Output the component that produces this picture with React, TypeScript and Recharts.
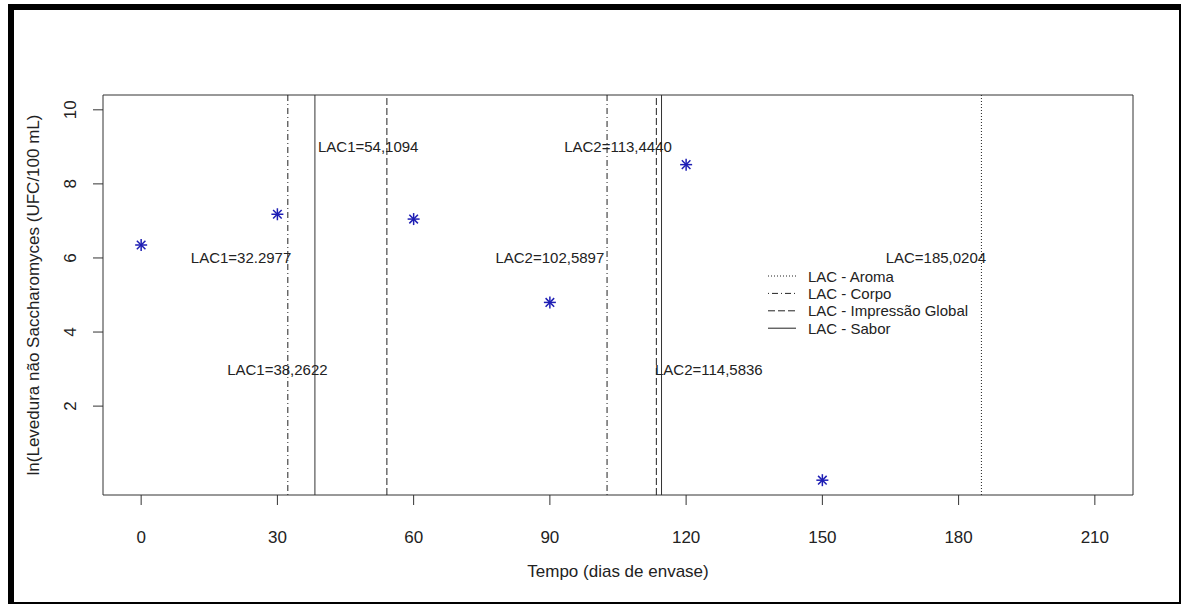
import React from 'react';
import {
    ScatterChart,
    Scatter,
    XAxis,
    YAxis,
    ReferenceLine,
    ReferenceArea,
    Legend,
    Label
} from 'recharts';

// Observed counts over storage time
const days = [0, 30, 60, 90, 120, 150];
const lnYeast = [6.35, 7.18, 7.05, 4.8, 8.52, 0];

// Shelf-life limits (LAC) for each sensory attribute
const lacAroma = [185.0204];
const lacCorpo = [32.2977, 102.5897];
const lacImpressao = [54.1094, 113.444];
const lacSabor = [38.2622, 114.5836];

// Annotations placed in data units
const noteTexts = [
    'LAC1=32.2977',
    'LAC1=38,2622',
    'LAC1=54,1094',
    'LAC2=102,5897',
    'LAC2=113,4440',
    'LAC2=114,5836',
    'LAC=185,0204'
];
const noteX = [22, 30, 50, 90, 105, 125, 175];
const noteY = [6, 3, 9, 6, 9, 3, 6];

const xTicks = [0, 30, 60, 90, 120, 150, 180, 210];
const yTicks = [2, 4, 6, 8, 10];
const xDomain: [number, number] = [-8.4, 218.4];
const yDomain: [number, number] = [-0.4, 10.4];

const legendNames = ['LAC - Aroma', 'LAC - Corpo', 'LAC - Impressão Global', 'LAC - Sabor'];

const FONT = '"Liberation Sans", Arial, sans-serif';
const INK = '#222';
const AXIS_FONT = 17;
const DOTTED = '1 2';
const DOTDASH = '1 3 6 3';
const DASHED = '7 3';
const legendDashes = [DOTTED, DOTDASH, DASHED, undefined];

const points = days.map((d, i) => ({ x: d, y: lnYeast[i] }));
const notes = noteTexts.map((t, i) => ({ x: noteX[i], y: noteY[i], text: t }));

const Asterisk = ({ cx, cy }: any) => {
    const c = '#1e1eb4';
    return (
        <g stroke={c} strokeWidth={1.5}>
            <line x1={cx - 6} y1={cy} x2={cx + 6} y2={cy} />
            <line x1={cx} y1={cy - 6} x2={cx} y2={cy + 6} />
            <line x1={cx - 4.3} y1={cy - 4.3} x2={cx + 4.3} y2={cy + 4.3} />
            <line x1={cx - 4.3} y1={cy + 4.3} x2={cx + 4.3} y2={cy - 4.3} />
        </g>
    );
};

const NoteText = ({ cx, cy, payload }: any) => (
    <text
        x={cx}
        y={cy}
        textAnchor="middle"
        dominantBaseline="central"
        fontFamily={FONT}
        fontSize={15}
        fill={INK}
    >
        {payload.text}
    </text>
);

const XTick = ({ x, y, payload }: any) => (
    <text x={x} y={y + 30} textAnchor="middle" dominantBaseline="central" fontFamily={FONT} fontSize={AXIS_FONT} fill={INK}>
        {payload.value}
    </text>
);

const YTick = ({ x, y, payload }: any) => (
    <text
        x={x - 20}
        y={y}
        textAnchor="middle"
        dominantBaseline="central"
        fontFamily={FONT}
        fontSize={AXIS_FONT}
        fill={INK}
        transform={`rotate(-90, ${x - 20}, ${y})`}
    >
        {payload.value}
    </text>
);

const LegendBox = () => (
    <svg width={240} height={72}>
        {legendNames.map((name, i) => {
            const yy = 9 + i * 17.4;
            return (
                <g key={name}>
                    <line x1={2} y1={yy} x2={30} y2={yy} stroke={INK} strokeDasharray={legendDashes[i]} />
                    <text x={42} y={yy} dominantBaseline="central" fontFamily={FONT} fontSize={15} fill={INK}>
                        {name}
                    </text>
                </g>
            );
        })}
    </svg>
);

const App = () => (
    <div style={{ position: 'absolute', left: 0, top: 0, width: 1181, height: 604, background: '#fff' }}>
        <div
            style={{
                position: 'absolute',
                left: 8,
                top: 4,
                width: 1173,
                height: 600,
                boxSizing: 'border-box',
                borderTop: '6px solid #000',
                borderLeft: '6px solid #000',
                borderRight: '2px solid #000',
                borderBottom: '2px solid #000'
            }}
        />
        <div style={{ position: 'absolute', left: 0, top: 0 }}>
            <ScatterChart width={1181} height={604} margin={{ top: 95, right: 48, bottom: 79, left: 63 }}>
                <XAxis
                    type="number"
                    dataKey="x"
                    domain={xDomain}
                    ticks={xTicks}
                    allowDataOverflow
                    height={30}
                    axisLine={false}
                    tickLine={{ stroke: '#333' }}
                    tickSize={10}
                    tick={<XTick />}
                >
                    <Label
                        content={({ viewBox }: any) => (
                            <text
                                x={viewBox.x + viewBox.width / 2}
                                y={viewBox.y + 76}
                                textAnchor="middle"
                                dominantBaseline="central"
                                fontFamily={FONT}
                                fontSize={AXIS_FONT}
                                fill={INK}
                            >
                                Tempo (dias de envase)
                            </text>
                        )}
                    />
                </XAxis>
                <YAxis
                    type="number"
                    dataKey="y"
                    domain={yDomain}
                    ticks={yTicks}
                    allowDataOverflow
                    width={40}
                    axisLine={false}
                    tickLine={{ stroke: '#333' }}
                    tickSize={10}
                    tick={<YTick />}
                >
                    <Label
                        content={({ viewBox }: any) => {
                            const lx = viewBox.x + viewBox.width - 70;
                            const ly = viewBox.y + viewBox.height / 2;
                            return (
                                <text
                                    x={lx}
                                    y={ly}
                                    textAnchor="middle"
                                    dominantBaseline="central"
                                    fontFamily={FONT}
                                    fontSize={AXIS_FONT}
                                    fill={INK}
                                    transform={`rotate(-90, ${lx}, ${ly})`}
                                >
                                    ln(Levedura não Saccharomyces (UFC/100 mL)
                                </text>
                            );
                        }}
                    />
                </YAxis>
                <ReferenceArea
                    x1={xDomain[0]}
                    x2={xDomain[1]}
                    y1={yDomain[0]}
                    y2={yDomain[1]}
                    fill="none"
                    stroke="#333"
                    ifOverflow="visible"
                />
                {lacAroma.map((v) => (
                    <ReferenceLine key={`a${v}`} x={v} stroke={INK} strokeDasharray={DOTTED} />
                ))}
                {lacCorpo.map((v) => (
                    <ReferenceLine key={`c${v}`} x={v} stroke={INK} strokeDasharray={DOTDASH} />
                ))}
                {lacImpressao.map((v) => (
                    <ReferenceLine key={`i${v}`} x={v} stroke={INK} strokeDasharray={DASHED} />
                ))}
                {lacSabor.map((v) => (
                    <ReferenceLine key={`s${v}`} x={v} stroke="#333" />
                ))}
                <Scatter data={points} shape={<Asterisk />} isAnimationActive={false} />
                <Scatter data={notes} shape={<NoteText />} isAnimationActive={false} />
                <Legend
                    layout="vertical"
                    align="center"
                    verticalAlign="middle"
                    content={<LegendBox />}
                    wrapperStyle={{ position: 'absolute', left: 766, top: 267, width: 240, height: 72 }}
                />
            </ScatterChart>
        </div>
    </div>
);

export default App;
